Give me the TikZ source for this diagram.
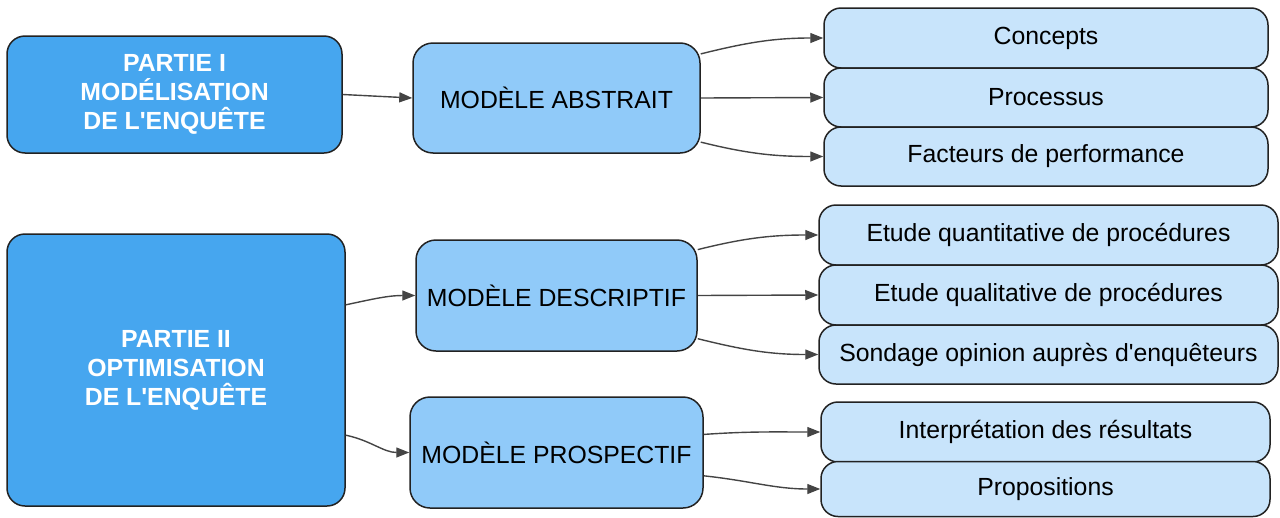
\documentclass[tikz,border=0pt]{standalone}
\usepackage{fontspec}
\setmainfont{Liberation Sans}[Ligatures=TeXOff]
\usetikzlibrary{arrows.meta}
\definecolor{darkbox}{HTML}{46A6EF}
\definecolor{midbox}{HTML}{90CAF9}
\definecolor{leafbox}{HTML}{C8E4FB}
\definecolor{edge}{HTML}{222222}
\definecolor{arr}{HTML}{444444}
\tikzset{
  partbox/.style={draw=edge, line width=1.5pt, fill=darkbox, rounded corners=18pt, inner sep=0pt,
    text=white, align=center, font=\fontsize{24.8}{29}\selectfont\bfseries},
  modelbox/.style={draw=edge, line width=1.5pt, fill=midbox, rounded corners=20pt, inner sep=0pt,
    text=black, align=center, font=\fontsize{24.8}{29}\selectfont},
  leaf/.style={draw=edge, line width=1.5pt, fill=leafbox, rounded corners=17pt, inner sep=0pt,
    text=black, align=center, font=\fontsize{24.8}{29}\selectfont},
  conn/.style={draw=arr, line width=1.4pt, -{Triangle[length=13pt,width=10pt]}}
}
\begin{document}
\begin{tikzpicture}[x=1pt,y=1pt]
\useasboundingbox (0,0) rectangle (1280,-517);
% left boxes
\node[partbox, minimum width=335pt, minimum height=117pt] (P1) at (174.5,-94.5) {PARTIE I\\MODÉLISATION\\DE L'ENQUÊTE};
\node[partbox, minimum width=338pt, minimum height=272pt] (P2) at (176,-370) {PARTIE II\\OPTIMISATION\\DE L'ENQUÊTE};
% model boxes
\node[modelbox, minimum width=287pt, minimum height=110pt] (MA) at (556.5,-98) {MODÈLE ABSTRAIT};
\node[modelbox, minimum width=281pt, minimum height=111pt] (MD) at (556.5,-295.5) {MODÈLE DESCRIPTIF};
\node[modelbox, minimum width=293pt, minimum height=111pt] (MP) at (556.5,-452.5) {MODÈLE PROSPECTIF};
% leaves group 1
\node[leaf, minimum width=444pt, minimum height=60pt] (C) at (1046,-38) {Concepts};
\node[leaf, minimum width=444pt, minimum height=59pt] (Pr) at (1046,-97.5) {Processus};
\node[leaf, minimum width=444pt, minimum height=59pt] (F) at (1046,-156.5) {Facteurs de performance};
% leaves group 2
\node[leaf, minimum width=459pt, minimum height=60pt] (EQn) at (1048.5,-235) {Etude quantitative de procédures};
\node[leaf, minimum width=459pt, minimum height=60pt] (EQl) at (1048.5,-295) {Etude qualitative de procédures};
\node[leaf, minimum width=459pt, minimum height=59pt] (S) at (1048.5,-354.5) {Sondage opinion auprès d'enquêteurs};
% leaves group 3
\node[leaf, minimum width=449pt, minimum height=60pt] (I) at (1045.5,-432) {Interprétation des résultats};
\node[leaf, minimum width=449pt, minimum height=55pt] (Po) at (1045.5,-489) {Propositions};
% connectors
\draw[conn] (P1.east) -- (MA.west);
\draw[conn] (MA.17) to[out=14, in=180] (C.west);
\draw[conn] (MA.east) -- (Pr.west);
\draw[conn] (MA.-17) to[out=-14, in=180] (F.west);
\draw[conn] (P2.21) to[out=12, in=180] (MD.west);
\draw[conn] (P2.-21) to[out=-12, in=180] (MP.west);
\draw[conn] (MD.18) to[out=14, in=180] (EQn.west);
\draw[conn] (MD.east) -- (EQl.west);
\draw[conn] (MD.-17) to[out=-14, in=180] (S.west);
\draw[conn] (MP.7.6) to[out=4, in=180] (I.west);
\draw[conn] (MP.-9.5) to[out=-6, in=180] (Po.west);
\end{tikzpicture}
\end{document}
